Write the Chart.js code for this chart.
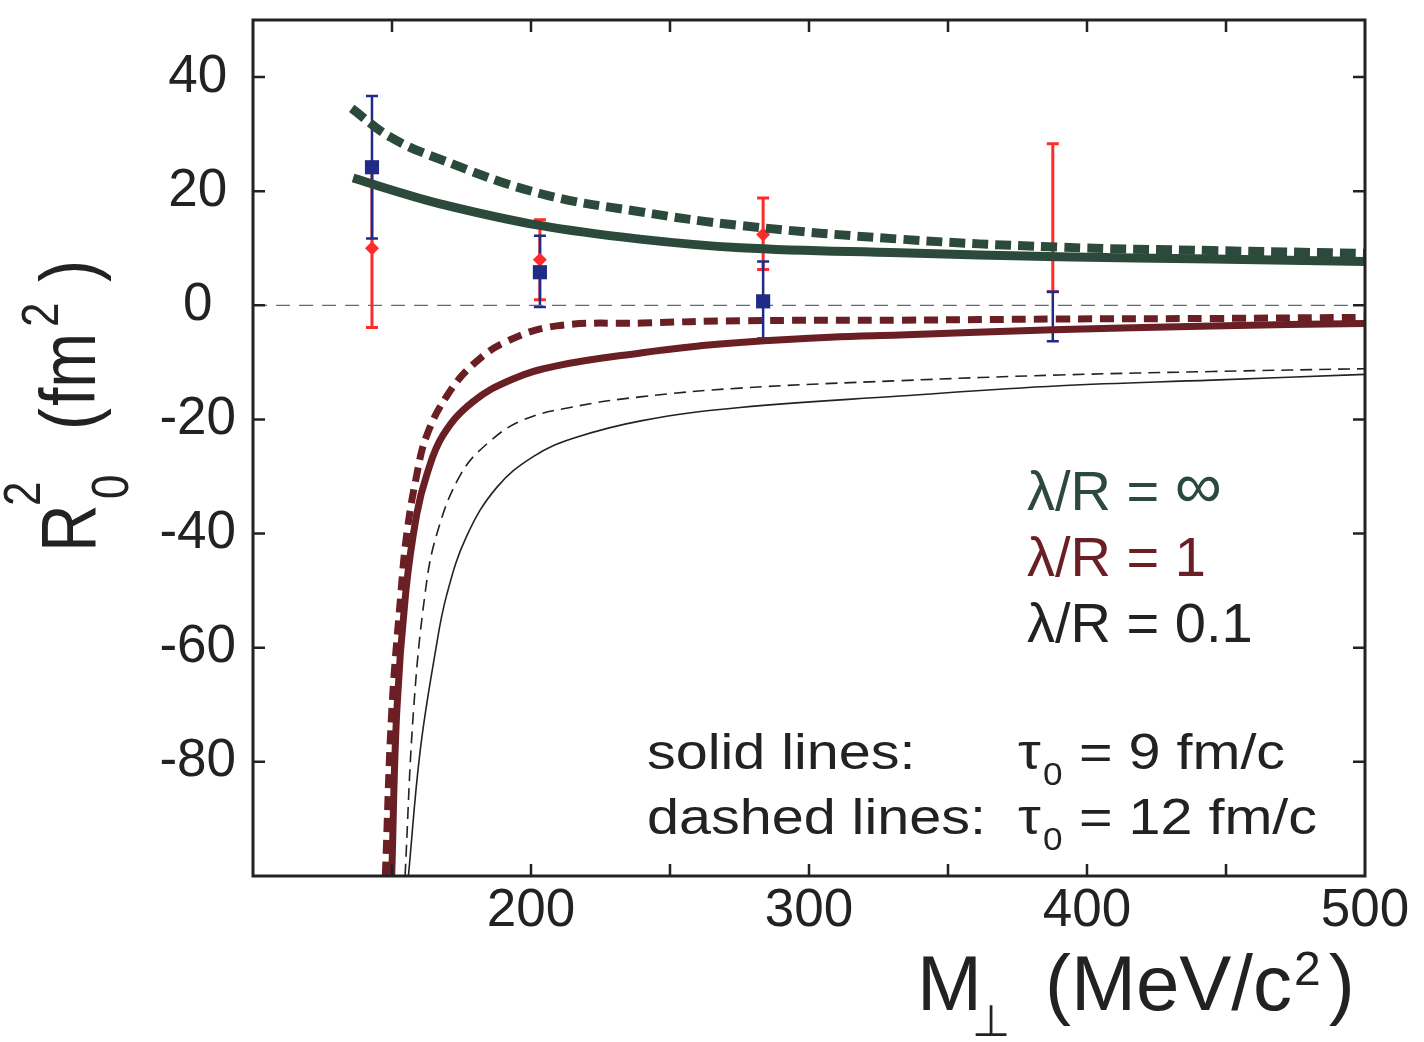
<!DOCTYPE html>
<html>
<head>
<meta charset="utf-8">
<script src="https://cdn.jsdelivr.net/npm/chart.js@4.4.0/dist/chart.umd.min.js"></script>
<style>
  html, body { margin: 0; padding: 0; background: #fff; }
  canvas { display: block; }
</style>
</head>
<body>
<canvas id="myChart" width="1424" height="1042"></canvas>
<script>
Chart.defaults.font.family = "'Liberation Sans', Arial, sans-serif";
Chart.defaults.color = '#222';

// model curves, M_perp (MeV/c^2) against R_o^2 (fm^2)
const mInfDashed = [135.5, 149.3, 167.3, 203.2, 239.2, 275.2, 332.7, 389.6, 445, 500];
const rInfDashed = [34.5, 29.5, 25.6, 19.6, 16.4, 14.0, 11.6, 10.2, 9.6, 9.1];
const mInfSolid = [136, 149.3, 167.3, 203.2, 239.2, 275.2, 332.7, 389.6, 445, 500];
const rInfSolid = [22.3, 20.3, 17.8, 14.0, 11.6, 10.1, 9.2, 8.5, 8.1, 7.7];

const mOneDashed = [147.6, 149.9, 153.2, 155.3, 158.9, 162.5, 169.7, 179.1, 191.3, 209.2, 240, 275.2, 332.7, 389.6, 445, 500];
const rOneDashed = [-100, -71.3, -50.5, -40.1, -29.7, -22.8, -15.9, -10.4, -6.3, -3.6, -3.1, -2.7, -2.6, -2.4, -2.3, -2.1];
const mOneSolid = [149.9, 151.7, 154.9, 158.9, 162.5, 168.3, 179.1, 193.5, 209.2, 240, 260.8, 275.2, 307.6, 332.7, 387.7, 445, 500];
const rOneSolid = [-100, -71.3, -50.5, -36.6, -29.7, -22.8, -16.9, -12.9, -10.6, -8.3, -7.1, -6.5, -5.6, -5.2, -4.3, -3.6, -3.2];

const mTenthDashed = [154.7, 157.7, 161.9, 166.1, 174.5, 184.1, 197.1, 215.1, 240, 275.2, 332.7, 390.3, 445, 500];
const rTenthDashed = [-100, -71.3, -50.5, -40.1, -29.8, -24.3, -20.1, -17.8, -16.0, -14.5, -13.2, -12.2, -11.6, -11.1];
const mTenthSolid = [155.9, 160.1, 165.5, 169.7, 176.9, 187.7, 200.8, 215.2, 240, 275.2, 332.7, 390.3, 445, 500];
const rTenthSolid = [-100, -78.2, -61.0, -50.7, -40.4, -31.9, -26.5, -23.3, -20.2, -17.9, -15.9, -14.1, -13.1, -12.1];

const mZero = [100, 500];
const rZero = [0, 0];

// measured points with error bars
const mData = [142.8, 203.2, 283.5, 387.7];
const rBlue = [24.2, 5.8, 0.7, -2.0];
const loBlue = [12.5, 6.1, 6.5, 4.3];
const hiBlue = [12.5, 6.4, 7.0, 4.4];
const rRed = [10.0, 8.0, 12.4, 9.6];
const loRed = [13.9, 7.0, 6.1, 7.2];
const hiRed = [13.9, 7.0, 6.4, 18.7];

// axis ticks
const xLabels = [200, 300, 400, 500];
const yLabels = [-80, -60, -40, -20, 0, 20, 40];
const xMinor = [150, 200, 250, 300, 350, 400, 450];

const green = '#2c4a3b';
const brown = '#6a1f25';
const ink = '#222';
const navy = '#1f2b86';
const red = '#ff2b2b';

function pts(xs, ys) {
  return xs.map((x, i) => ({ x: x, y: ys[i] }));
}

function curve(xs, ys, color, width, dash) {
  return {
    data: pts(xs, ys),
    showLine: true,
    borderColor: color,
    borderWidth: width,
    borderDash: dash || [],
    pointRadius: 0,
    tension: 0.4,
    fill: false,
    order: 0
  };
}

const errorBars = {
  id: 'errorBars',
  beforeDatasetsDraw(chart) {
    const { ctx, chartArea: a, scales: { x, y } } = chart;
    ctx.save();
    ctx.beginPath();
    ctx.rect(a.left, a.top, a.width, a.height);
    ctx.clip();
    [[rRed, loRed, hiRed, red, 3], [rBlue, loBlue, hiBlue, navy, 2.5]].forEach(([vals, lo, hi, color, w]) => {
      ctx.strokeStyle = color;
      ctx.lineWidth = w;
      mData.forEach((m, i) => {
        const px = x.getPixelForValue(m);
        const top = y.getPixelForValue(vals[i] + hi[i]);
        const bot = y.getPixelForValue(vals[i] - lo[i]);
        ctx.beginPath();
        ctx.moveTo(px, top); ctx.lineTo(px, bot);
        ctx.moveTo(px - 6, top); ctx.lineTo(px + 6, top);
        ctx.moveTo(px - 6, bot); ctx.lineTo(px + 6, bot);
        ctx.stroke();
      });
    });
    ctx.restore();
  }
};

// box and inward ticks on all four sides
const frame = {
  id: 'frame',
  afterDatasetsDraw(chart) {
    const { ctx, chartArea: a, scales: { x, y } } = chart;
    ctx.save();
    ctx.strokeStyle = ink;
    ctx.lineWidth = 3;
    ctx.strokeRect(a.left, a.top, a.right - a.left, a.bottom - a.top);
    ctx.lineWidth = 2.5;
    ctx.beginPath();
    yLabels.forEach(v => {
      const py = y.getPixelForValue(v);
      ctx.moveTo(a.left, py); ctx.lineTo(a.left + 12, py);
      ctx.moveTo(a.right, py); ctx.lineTo(a.right - 12, py);
    });
    xMinor.forEach(v => {
      const px = x.getPixelForValue(v);
      ctx.moveTo(px, a.bottom); ctx.lineTo(px, a.bottom - 12);
      ctx.moveTo(px, a.top); ctx.lineTo(px, a.top + 12);
    });
    ctx.stroke();
    ctx.restore();
  }
};

function font(px) {
  return px + "px 'Liberation Sans', Arial, sans-serif";
}

function wideText(ctx, str, x, y, sx) {
  ctx.save();
  ctx.translate(x, y);
  ctx.scale(sx, 1);
  ctx.fillText(str, 0, 0);
  ctx.restore();
}

const labels = {
  id: 'labels',
  afterDraw(chart) {
    const ctx = chart.ctx;
    ctx.save();
    ctx.textAlign = 'left';
    ctx.textBaseline = 'alphabetic';

    // legend text
    ctx.font = font(56);
    ctx.fillStyle = green;
    ctx.fillText('λ/R = ', 1027, 510);
    const wl = ctx.measureText('λ/R = ').width;
    ctx.font = font(66);
    ctx.fillText('∞', 1027 + wl, 508);
    ctx.font = font(56);
    ctx.fillStyle = brown;
    ctx.fillText('λ/R = 1', 1027, 576);
    ctx.fillStyle = ink;
    ctx.fillText('λ/R = 0.1', 1027, 642);

    // tau notes
    [['solid lines:', '= 9 fm/c', 769], ['dashed lines:', '= 12 fm/c', 834]].forEach(([a, b, base]) => {
      ctx.font = font(50);
      wideText(ctx, a, 647, base, 1.15);
      wideText(ctx, 'τ', 1018, base, 1.15);
      wideText(ctx, b, 1079, base, 1.15);
      ctx.font = font(32);
      wideText(ctx, '0', 1043, base + 16, 1.1);
    });

    // x title
    ctx.font = font(78);
    ctx.fillText('M', 917, 1010);
    const xs = 1045;
    ctx.fillText('(MeV/c', xs, 1010);
    const w1 = ctx.measureText('(MeV/c').width;
    ctx.font = font(48);
    ctx.fillText('2', xs + w1 + 2, 985);
    const w2 = ctx.measureText('2').width;
    ctx.font = font(78);
    ctx.fillText(')', xs + w1 + w2 + 10, 1010);
    ctx.font = "44px 'DejaVu Sans', sans-serif";
    ctx.textAlign = 'center';
    ctx.fillText('⊥', 991, 1036);
    ctx.textAlign = 'left';

    // y title, rotated
    ctx.translate(95, 552);
    ctx.rotate(-Math.PI / 2);
    ctx.scale(1, 1.17);
    ctx.font = font(66);
    ctx.fillText('R', 0, 0);
    ctx.font = font(44);
    ctx.fillText('2', 46, -47);
    ctx.fillText('0', 53, 28);
    ctx.font = font(66);
    ctx.fillText('(', 122, 0);
    ctx.fillText('fm', 146, 0);
    ctx.font = font(44);
    ctx.fillText('2', 225, -32);
    ctx.font = font(66);
    ctx.fillText(')', 270, 0);
    ctx.restore();
  }
};

const data = {
  datasets: [
    curve(mInfSolid, rInfSolid, green, 9),
    curve(mInfDashed, rInfDashed, green, 9, [16, 7]),
    curve(mOneSolid, rOneSolid, brown, 7),
    curve(mOneDashed, rOneDashed, brown, 7, [14, 8]),
    curve(mTenthSolid, rTenthSolid, ink, 1.6),
    curve(mTenthDashed, rTenthDashed, ink, 1.6, [12, 7]),
    {
      data: pts(mData, rBlue),
      pointStyle: 'rect',
      pointRadius: [10, 10, 10, 0],
      backgroundColor: navy,
      borderWidth: 0,
      order: 1
    },
    {
      data: pts(mData, rRed),
      pointStyle: 'rectRot',
      pointRadius: [7, 7, 7, 0],
      backgroundColor: red,
      borderWidth: 0,
      order: 1
    },
    Object.assign(curve(mZero, rZero, '#5b6b78', 1.2, [14, 9]), { order: 2 })
  ]
};

// config
const config = {
  type: 'scatter',
  data,
  options: {
    responsive: false,
    animation: false,
    events: [],
    layout: { padding: { top: 20, right: 59, left: 0, bottom: 0 } },
    plugins: { legend: { display: false }, tooltip: { enabled: false } },
    scales: {
      x: {
        type: 'linear',
        min: 100,
        max: 500,
        grid: { display: false, drawTicks: false },
        border: { display: false },
        afterBuildTicks: s => { s.ticks = xLabels.map(v => ({ value: v })); },
        afterFit: s => { s.height = 166; s.paddingLeft = 0; s.paddingRight = 0; },
        ticks: { font: { size: 53 }, color: ink, padding: 4, maxRotation: 0 }
      },
      y: {
        type: 'linear',
        min: -100,
        max: 50,
        grid: { display: false, drawTicks: false },
        border: { display: false },
        afterBuildTicks: s => { s.ticks = yLabels.map(v => ({ value: v })); },
        afterFit: s => { s.width = 253; s.paddingTop = 0; s.paddingBottom = 0; },
        ticks: { font: { size: 53 }, color: ink, padding: 17, crossAlign: 'center' }
      }
    }
  },
  plugins: [errorBars, frame, labels]
};

// render init block
const myChart = new Chart(document.getElementById('myChart'), config);
</script>
</body>
</html>
